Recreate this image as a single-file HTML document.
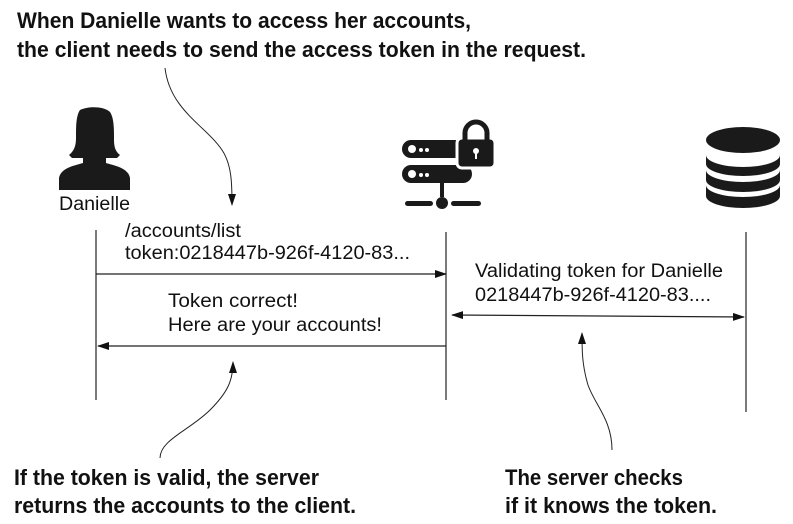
<!DOCTYPE html>
<html><head><meta charset="utf-8"><style>
html,body{margin:0;padding:0;background:#fff;}
svg{display:block;}
.h{font-family:"Liberation Sans Narrow","Liberation Sans",sans-serif;font-weight:bold;font-size:22px;fill:#111;}
.t{font-family:"Liberation Sans",sans-serif;font-size:19px;fill:#111;}
</style></head><body>
<svg width="793" height="524" viewBox="0 0 793 524" xmlns="http://www.w3.org/2000/svg">
<defs>
<marker id="a" markerWidth="12" markerHeight="8" refX="11" refY="4" orient="auto" markerUnits="userSpaceOnUse"><path d="M0,0 L12,4 L0,8 Z" fill="#111"/></marker>
<marker id="as" markerWidth="12" markerHeight="8" refX="1" refY="4" orient="auto" markerUnits="userSpaceOnUse"><path d="M12,0 L0,4 L12,8 Z" fill="#111"/></marker>
</defs>
<text class="h" x="17" y="28" textLength="454" lengthAdjust="spacingAndGlyphs">When Danielle wants to access her accounts,</text>
<text class="h" x="17" y="57" textLength="569" lengthAdjust="spacingAndGlyphs">the client needs to send the access token in the request.</text>

<path d="M165,68 C170,110 205,125 222,150 C232,165 232,185 232,205" fill="none" stroke="#222" stroke-width="1" marker-end="url(#a)"/>

<!-- person -->
<g fill="#1a1a1a">
<path d="M80,110 C88,106 104,106 110,112 C114,118 114,128 114,140 C114,148 116,152 120,155 L117,158 L106,158 L106,163 C116,166 128,168 130,178 L130,190 L59,190 L59,178 C61,168 73,166 83,163 L83,158 L72,158 L69,155 C74,151 76,146 76,138 C76,126 76,116 80,110 Z"/>
</g>
<text class="t" x="59" y="210" textLength="71" lengthAdjust="spacingAndGlyphs">Danielle</text>

<!-- server icon -->
<g fill="#1a1a1a">
<rect x="402" y="140" width="70" height="18" rx="9"/>
<rect x="402" y="165" width="70" height="18" rx="9"/>
<circle cx="412" cy="149" r="4" fill="#fff"/><circle cx="421" cy="150" r="2" fill="#fff"/><circle cx="427" cy="150" r="2" fill="#fff"/>
<circle cx="412" cy="174" r="4" fill="#fff"/><circle cx="421" cy="175" r="2" fill="#fff"/><circle cx="427" cy="175" r="2" fill="#fff"/>
<rect x="457" y="138" width="38" height="30" rx="5" stroke="#fff" stroke-width="3"/>
<path d="M465,140 L465,133 A11,11 0 0 1 487,133 L487,140" fill="none" stroke="#1a1a1a" stroke-width="5"/>
<circle cx="476" cy="151" r="3" fill="#fff"/><rect x="475" y="151" width="2" height="8" fill="#fff"/>
<rect x="440" y="183" width="4" height="14"/>
<circle cx="442" cy="203" r="6"/>
<rect x="405" y="201" width="28" height="5" rx="2.5"/>
<rect x="451" y="201" width="30" height="5" rx="2.5"/>
</g>

<!-- db icon -->
<g fill="#1a1a1a">
<path d="M706,185 L706,196 A37,12 0 0 0 780,196 L780,185 A37,12 0 0 1 706,185 Z"/>
<path d="M706,170 L706,180 A37,12 0 0 0 780,180 L780,170 A37,12 0 0 1 706,170 Z"/>
<path d="M706,155 L706,164 A37,12 0 0 0 780,164 L780,155 A37,12 0 0 1 706,155 Z"/>
<ellipse cx="743" cy="140" rx="37" ry="13"/>
</g>

<g stroke="#222" stroke-width="1.2">
<line x1="96" y1="230" x2="96" y2="400"/>
<line x1="446" y1="232" x2="446" y2="400"/>
<line x1="746" y1="232" x2="746" y2="412"/>
<line x1="96" y1="274" x2="446" y2="274" marker-end="url(#a)"/>
<line x1="446" y1="346" x2="98" y2="346" marker-end="url(#a)"/>
<line x1="452" y1="315" x2="744" y2="317" marker-start="url(#as)" marker-end="url(#a)"/>
</g>

<text class="t" x="125" y="237" textLength="116" lengthAdjust="spacingAndGlyphs">/accounts/list</text>
<text class="t" x="125" y="259" textLength="285" lengthAdjust="spacingAndGlyphs">token:0218447b-926f-4120-83...</text>
<text class="t" x="168" y="307" textLength="130" lengthAdjust="spacingAndGlyphs">Token correct!</text>
<text class="t" x="168" y="331" textLength="214" lengthAdjust="spacingAndGlyphs">Here are your accounts!</text>
<text class="t" x="475" y="277" textLength="248" lengthAdjust="spacingAndGlyphs">Validating token for Danielle</text>
<text class="t" x="475" y="301" textLength="236" lengthAdjust="spacingAndGlyphs">0218447b-926f-4120-83....</text>

<path d="M160,458 C160,440 190,430 210,410 C228,392 233,380 233,362" fill="none" stroke="#222" stroke-width="1" marker-end="url(#a)"/>
<path d="M612,450 C612,420 595,405 588,385 C582,365 582,350 582,333" fill="none" stroke="#222" stroke-width="1" marker-end="url(#a)"/>

<text class="h" x="14" y="485" textLength="305" lengthAdjust="spacingAndGlyphs">If the token is valid, the server</text>
<text class="h" x="14" y="513" textLength="342" lengthAdjust="spacingAndGlyphs">returns the accounts to the client.</text>
<text class="h" x="505" y="485" textLength="178" lengthAdjust="spacingAndGlyphs">The server checks</text>
<text class="h" x="505" y="513" textLength="212" lengthAdjust="spacingAndGlyphs">if it knows the token.</text>
</svg>
</body></html>
